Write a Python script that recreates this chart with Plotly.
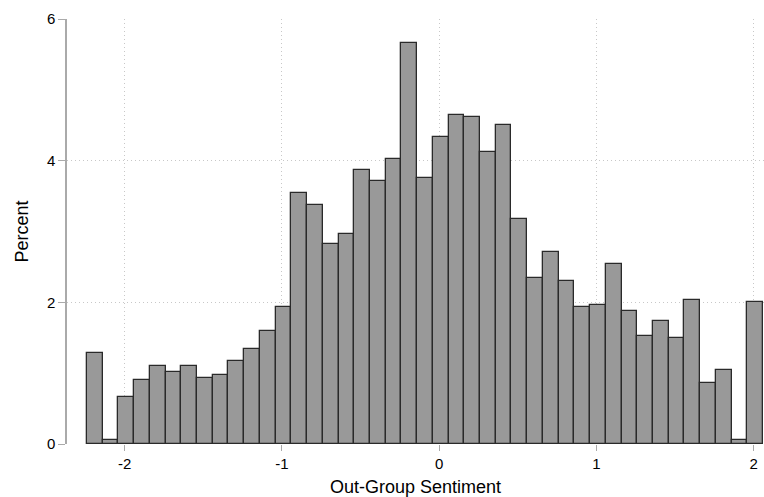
import plotly.graph_objects as go

# Histogram of Out-Group Sentiment (percent per bin)
bin_start = -2.24
bin_width = 0.1
percent = [
    1.28, 0.06, 0.67, 0.91, 1.10, 1.02, 1.10, 0.93, 0.98, 1.17,
    1.34, 1.59, 1.93, 3.54, 3.37, 2.82, 2.96, 3.87, 3.72, 4.03,
    5.66, 3.76, 4.34, 4.64, 4.61, 4.12, 4.50, 3.18, 2.34, 2.71,
    2.30, 1.93, 1.96, 2.54, 1.88, 1.53, 1.73, 1.49, 2.03, 0.86,
    1.05, 0.05, 2.01,
]
x_ticks = [-2, -1, 0, 1, 2]
y_ticks = [0, 2, 4, 6]
x_title = "Out-Group Sentiment"
y_title = "Percent"

centers = [bin_start + bin_width * (i + 0.5) for i in range(len(percent))]

fig = go.Figure(
    go.Bar(
        x=centers,
        y=percent,
        width=bin_width,
        marker=dict(color="#999999", line=dict(color="#2a2a2a", width=1.3)),
        hoverinfo="x+y",
        cliponaxis=False,
    )
)

font_family = "Liberation Sans, Arial, sans-serif"

fig.update_layout(
    width=764,
    height=497,
    margin=dict(l=67, r=0, t=19, b=53),
    paper_bgcolor="white",
    plot_bgcolor="white",
    showlegend=False,
    font=dict(family=font_family, color="#000000"),
    bargap=0,
)

fig.update_xaxes(
    range=[-2.367, 2.066],
    tickvals=x_ticks,
    ticktext=[str(v) for v in x_ticks],
    ticks="outside",
    ticklen=6,
    tickcolor="#aaaaaa",
    tickwidth=1,
    tickfont=dict(size=15, family=font_family),
    showline=False,
    zeroline=False,
    showgrid=True,
    gridcolor="#c8c8c8",
    griddash="1px,3px",
    gridwidth=1,
    automargin=False,
    title=dict(text=x_title, font=dict(size=18, family=font_family), standoff=9),
)

fig.update_yaxes(
    range=[0, 6],
    tickvals=y_ticks,
    ticktext=[str(v) for v in y_ticks],
    ticks="outside",
    ticklen=7,
    tickcolor="#aaaaaa",
    tickwidth=1,
    tickfont=dict(size=15, family=font_family),
    showline=True,
    linecolor="#aaaaaa",
    linewidth=1.5,
    zeroline=False,
    showgrid=True,
    gridcolor="#c8c8c8",
    griddash="1px,3px",
    gridwidth=1,
    automargin=False,
    title=dict(text=y_title, font=dict(size=18, family=font_family), standoff=14),
)

fig.write_html(
    "out.html",
    config={"displayModeBar": False},
    post_script="document.body.style.margin='0';document.body.style.overflow='hidden';",
)
